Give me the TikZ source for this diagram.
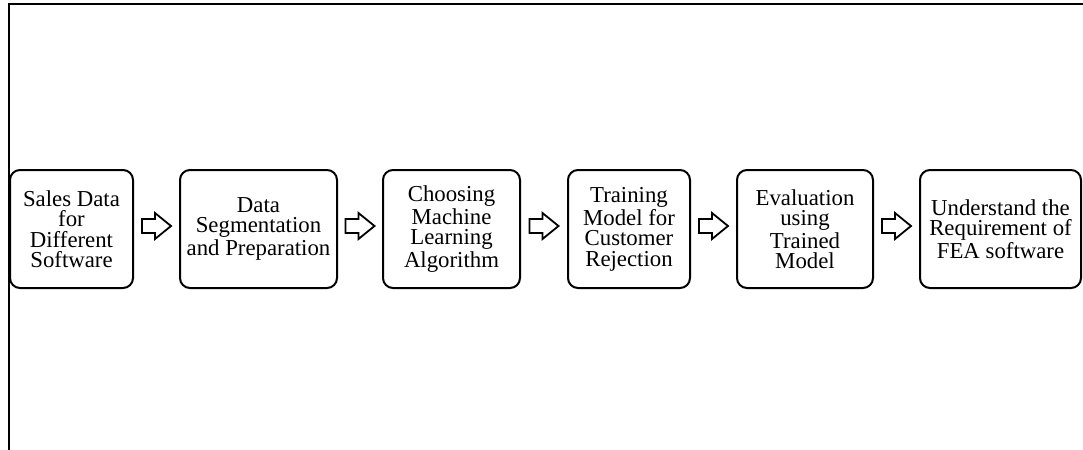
\documentclass[tikz,border=0pt]{standalone}
\usepackage{fontspec}
\setmainfont{Liberation Serif}
\usetikzlibrary{positioning,calc}
\tikzset{
  % stadier
  stage/.style={draw=black,line width=1pt,rounded corners=5pt,align=center,
                minimum height=59pt,inner sep=1pt,
                font=\fontsize{11.4}{10.2}\selectfont},
  flow/.pic={\draw[line width=0.9pt,line join=miter]
               (-14.5,-7) -- (-1.5,-7) -- (-1.5,-13) -- (14.5,0)
               -- (-1.5,13) -- (-1.5,7) -- (-14.5,7) -- cycle;},
  frame/.style={draw=black,line width=1pt},
}
\begin{document}
\begin{tikzpicture}[x=0.5pt,y=-0.5pt]
\useasboundingbox (0,0) rectangle (1083,450);
  \draw[frame] (9,450) -- (9,4) -- (1083,4);
  \node[stage,minimum width=61.5pt] (sales) at (71.5,229) {Sales Data\\for\\Different\\Software};
  \node[stage,minimum width=78.5pt] (prep) at (258.5,229) {Data\\Segmentation\\and Preparation};
  \node[stage,minimum width=68.5pt] (algo) at (451.5,229) {Choosing\\Machine\\Learning\\Algorithm};
  \node[stage,minimum width=61pt] (train) at (629,229) {Training\\Model for\\Customer\\Rejection};
  \node[stage,minimum width=68pt] (eval) at (805,229) {Evaluation\\using\\Trained\\Model};
  \node[stage,minimum width=80.5pt] (fea) at (1000.5,229) {Understand the\\Requirement of\\FEA software};
  \pic at ($(sales.east)!0.5!(prep.west)+(0,-3)$) {flow};
  \pic at ($(prep.east)!0.5!(algo.west)+(0,-3)$) {flow};
  \pic at ($(algo.east)!0.5!(train.west)+(0,-3)$) {flow};
  \pic at ($(train.east)!0.5!(eval.west)+(0,-3)$) {flow};
  \pic at ($(eval.east)!0.5!(fea.west)+(0,-3)$) {flow};
\end{tikzpicture}
\end{document}
